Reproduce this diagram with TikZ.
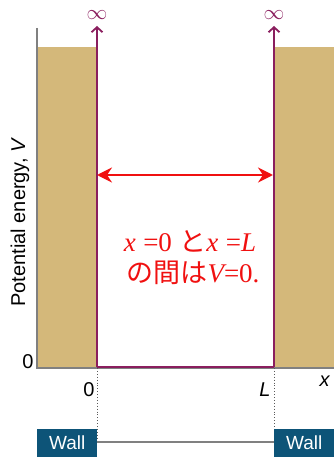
\documentclass[tikz,border=0pt]{standalone}
\usepackage{fontspec}
\setmainfont{Liberation Sans}
\newfontfamily\serifjp{Liberation Serif}
\newfontfamily\cjk{Noto Sans CJK JP}
\usetikzlibrary{arrows.meta}
\definecolor{tan}{HTML}{D4B87A}
\definecolor{wallpurple}{HTML}{8A1E5E}
\definecolor{wallblue}{HTML}{0D5478}
\definecolor{axisgray}{HTML}{808080}
\definecolor{txtred}{HTML}{F01010}
\tikzset{
  walltag/.style={fill=wallblue, text=white, font=\fontsize{19}{19}\selectfont, minimum width=60pt, minimum height=28pt, inner sep=0pt, anchor=north west},
  potline/.style={wallpurple, line width=1.3pt},
  lbl/.style={font=\fontsize{20}{20}\selectfont, inner sep=0pt},
}
\begin{document}
\begin{tikzpicture}[x=1pt,y=-1pt]
\useasboundingbox (0,0) rectangle (334,457);
% tan regions
\fill[tan] (38,47) rectangle (97,368);
\fill[tan] (275,47) rectangle (334,368);
% axes
\coordinate (ytop) at (37,28);
\coordinate (orig) at (37,368);
\coordinate (xend) at (334,368);
\draw[axisgray, line width=1.2pt] (ytop) -- (orig) -- (xend);
% potential lines
\coordinate (lb) at (97,367);
\coordinate (lt) at (97,26);
\coordinate (rb) at (274,367);
\coordinate (rt) at (274,26);
\draw[potline, -{Straight Barb[length=5pt,width=11pt,line width=1.8pt]}] (lb) -- (lt);
\draw[potline, -{Straight Barb[length=5pt,width=11pt,line width=1.8pt]}] (rb) -- (rt);
\draw[potline] (lb) -- (rb);
\node[text=wallpurple, font=\fontsize{21}{21}\selectfont, inner sep=0pt] (infL) at (97,15.5) {$\infty$};
\node[text=wallpurple, font=\fontsize{21}{21}\selectfont, inner sep=0pt] (infR) at (274,15.5) {$\infty$};
% red arrow
\coordinate (al) at (97,175);
\coordinate (ar) at (273,175);
\draw[txtred, line width=2.6pt, {Stealth[length=15pt,width=15pt,inset=5pt]}-{Stealth[length=15pt,width=15pt,inset=5pt]}] (al) -- (ar);
\node[text=txtred, font=\fontsize{27}{27}\selectfont, inner sep=0pt, anchor=base] (t1) at (190,251) {{\serifjp\itshape x} {\serifjp =0} {\cjk と}{\serifjp\itshape x} {\serifjp =}{\serifjp\itshape L}};
\node[text=txtred, font=\fontsize{27}{27}\selectfont, inner sep=0pt, anchor=base] (t2) at (193,282) {{\cjk の間は}{\serifjp\itshape V}{\serifjp =0.}};
% axis labels
\node[lbl, rotate=90, anchor=base] (ylab) at (25,222) {Potential energy, \textit{V}};
\node[lbl] (zy) at (28,362) {0};
\node[lbl] (zx) at (89,390) {0};
\node[lbl] (lx) at (265,390) {\textit{L}};
\node[lbl] (xl) at (325,381) {\textit{x}};
% dotted lines
\coordinate (ld) at (97,442);
\coordinate (rd) at (274,442);
\draw[axisgray!70!black, dotted, line width=0.9pt] (orig -| lb) -- (ld);
\draw[axisgray!70!black, dotted, line width=0.9pt] (orig -| rb) -- (rd);
\draw[axisgray, line width=1.3pt] (ld) -- (rd);
% walls
\node[walltag] (w1) at (37,429) {Wall};
\node[walltag] (w2) at (274,429) {Wall};
\end{tikzpicture}
\end{document}
